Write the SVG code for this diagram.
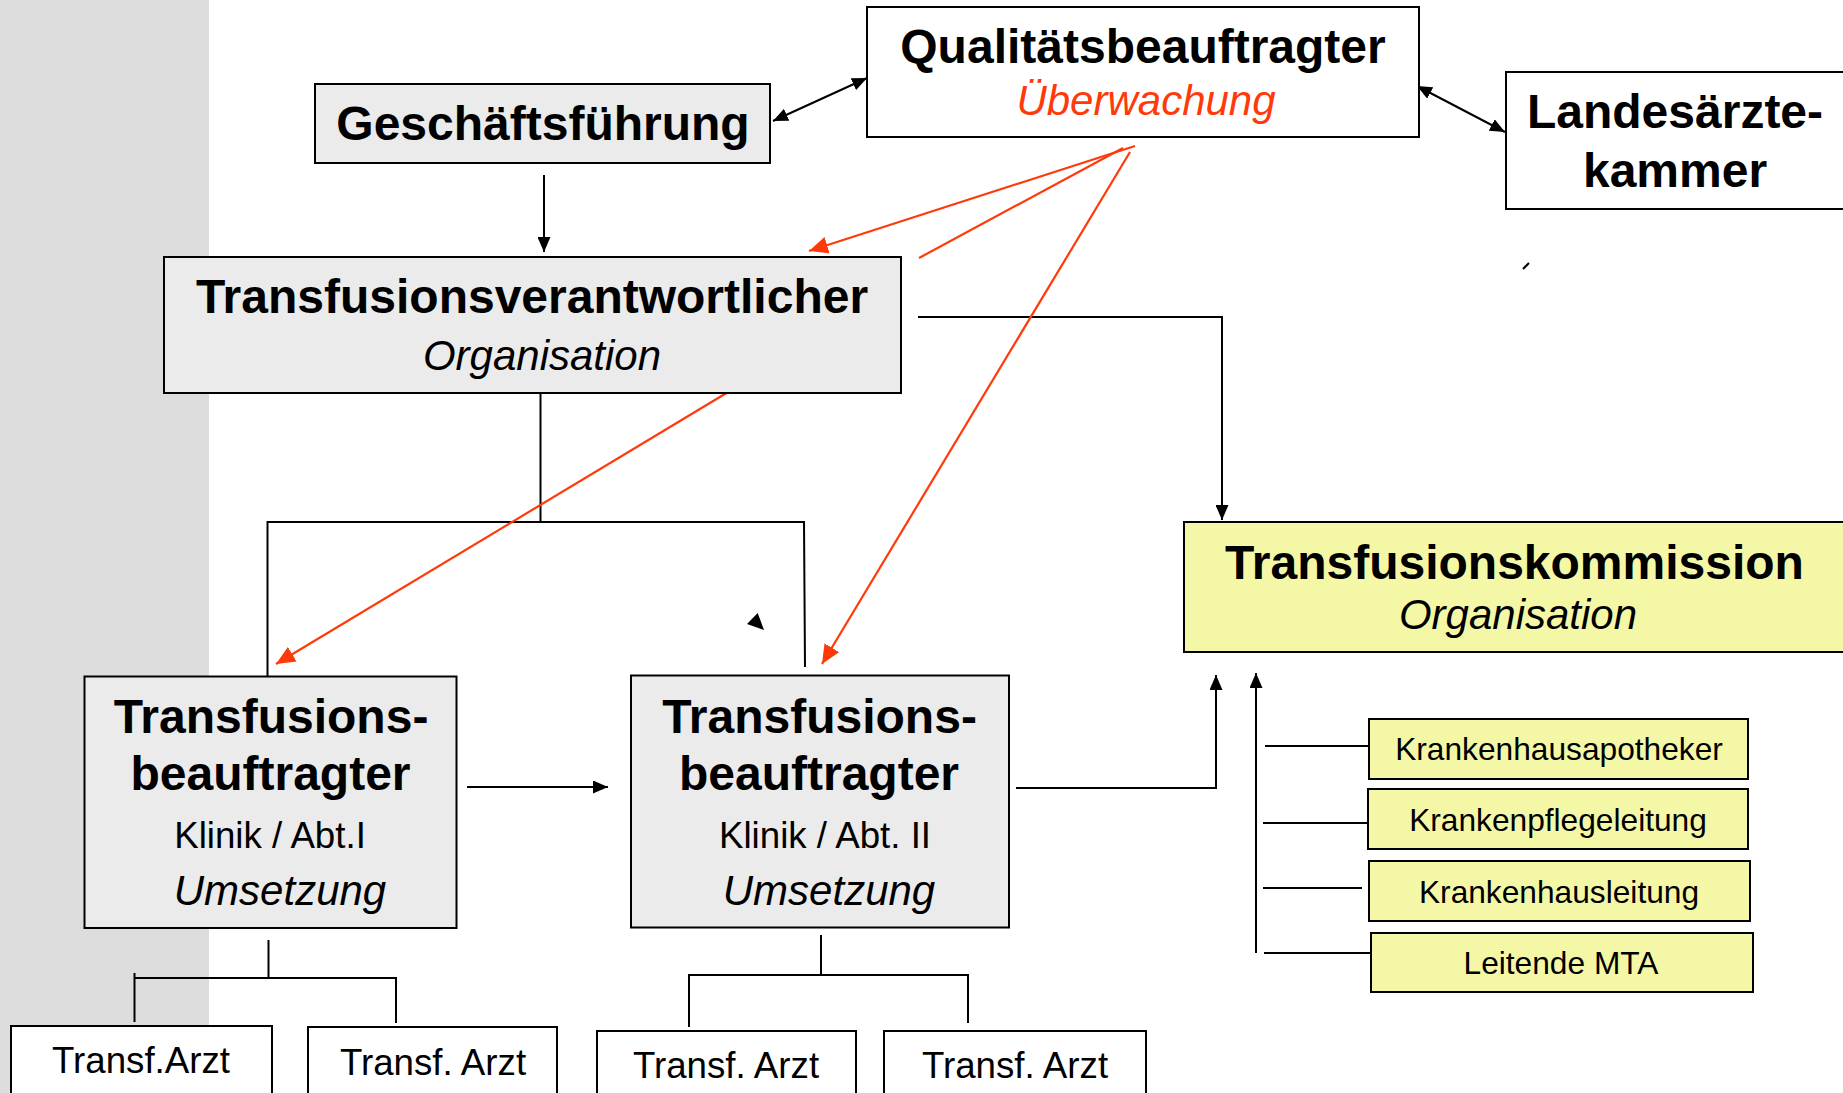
<svg xmlns="http://www.w3.org/2000/svg" width="1843" height="1093" viewBox="0 0 1843 1093">
<defs>
<style>
.box{stroke:#000;stroke-width:2}
.gray{fill:#ebebeb}
.white{fill:#fff}
.yel{fill:#f4f8a6}
.b{font-family:"Liberation Sans",Arial,sans-serif;font-weight:bold;font-size:48px;fill:#000;text-anchor:middle}
.i{font-family:"Liberation Sans",Arial,sans-serif;font-style:italic;font-size:42px;fill:#000;text-anchor:middle}
.r{font-family:"Liberation Sans",Arial,sans-serif;font-size:36.7px;fill:#000;text-anchor:middle}
.s{font-family:"Liberation Sans",Arial,sans-serif;font-size:31.7px;fill:#000;text-anchor:middle}
.ln{fill:none;stroke:#000;stroke-width:2}
.red{fill:none;stroke:#ff3a0a;stroke-width:2.2}
</style>
<marker id="ah" markerUnits="userSpaceOnUse" markerWidth="15" markerHeight="13" refX="15" refY="6.5" orient="auto-start-reverse" viewBox="0 0 15 13">
<path d="M0,0 L15,6.5 L0,13 z" fill="#000"/>
</marker>
<marker id="rh" markerUnits="userSpaceOnUse" markerWidth="19" markerHeight="17" refX="19" refY="8.5" orient="auto" viewBox="0 0 19 17">
<path d="M0,0 L19,8.5 L0,17 z" fill="#ff3a0a"/>
</marker>
</defs>
<rect x="0" y="0" width="1843" height="1093" fill="#fff"/>
<rect x="0" y="0" width="209" height="1093" fill="#dddddd"/>

<g id="connectors">
<line class="ln" x1="773" y1="121" x2="867" y2="78" marker-start="url(#ah)" marker-end="url(#ah)"/>
<line class="ln" x1="1417" y1="86" x2="1505" y2="132" marker-start="url(#ah)" marker-end="url(#ah)"/>
<line class="ln" x1="544" y1="175" x2="544" y2="252" marker-end="url(#ah)"/>
<polyline class="ln" points="918,317 1222,317 1222,520" marker-end="url(#ah)"/>
<polyline class="ln" points="540.5,392 540.5,522"/>
<polyline class="ln" points="267.5,678 267.5,522 804,522 805,667"/>
<line class="ln" x1="467" y1="787" x2="608" y2="787" marker-end="url(#ah)"/>
<polyline class="ln" points="1016,788 1216,788 1216,675" marker-end="url(#ah)"/>
<line class="ln" x1="1256" y1="953" x2="1256" y2="673" marker-end="url(#ah)"/>
<line class="ln" x1="1265" y1="746" x2="1369" y2="746"/>
<line class="ln" x1="1263" y1="823" x2="1368" y2="823"/>
<line class="ln" x1="1263" y1="888" x2="1362" y2="888"/>
<line class="ln" x1="1264" y1="953" x2="1371" y2="953"/>
<polyline class="ln" points="268.5,940 268.5,978"/>
<polyline class="ln" points="134.5,1022 134.5,973 134.5,978 396,978 396,1023"/>
<polyline class="ln" points="821,935 821,975"/>
<polyline class="ln" points="689,1027 689,975 968,975 968,1023"/>
<line class="red" x1="1135" y1="146" x2="809" y2="251" marker-end="url(#rh)"/>
<line class="red" x1="1123" y1="148" x2="919" y2="258" stroke-width="1.6"/>
<line class="red" x1="1130" y1="152" x2="822" y2="664" marker-end="url(#rh)"/>
<line class="red" x1="726.5" y1="393" x2="276" y2="664" marker-end="url(#rh)"/>
<polygon points="757.7,613 747,624 764,630" fill="#000"/>
<line x1="1523" y1="269" x2="1529" y2="263" stroke="#000" stroke-width="2"/>
<rect x="100.5" y="904.5" width="1.5" height="2.5" fill="#000"/>
</g>

<g id="geschaeftsfuehrung">
<rect class="box gray" x="315" y="84" width="455" height="79"/>
<text class="b" x="543" y="140">Geschäftsführung</text>
</g>

<g id="qualitaetsbeauftragter">
<rect class="box white" x="867" y="7" width="552" height="130"/>
<text class="b" x="1143" y="63">Qualitätsbeauftragter</text>
<text class="i" x="1146" y="115" style="fill:#ff3a0a">Überwachung</text>
</g>

<g id="landesaerztekammer">
<rect class="box white" x="1506" y="72" width="350" height="137"/>
<text class="b" x="1675" y="128">Landesärzte-</text>
<text class="b" x="1675" y="187">kammer</text>
</g>

<g id="transfusionsverantwortlicher">
<rect class="box gray" x="164" y="257" width="737" height="136"/>
<text class="b" x="532" y="313">Transfusionsverantwortlicher</text>
<text class="i" x="542" y="370">Organisation</text>
</g>

<g id="transfusionskommission">
<rect class="box yel" x="1184" y="522" width="680" height="130"/>
<text class="b" x="1514.5" y="579">Transfusionskommission</text>
<text class="i" x="1518" y="629">Organisation</text>
</g>

<g id="tb1">
<rect class="box gray" x="84.5" y="676.5" width="372" height="251.5"/>
<text class="b" x="271" y="733">Transfusions-</text>
<text class="b" x="270.5" y="790">beauftragter</text>
<text class="r" x="270" y="848">Klinik / Abt.I</text>
<text class="i" x="280" y="905">Umsetzung</text>
</g>

<g id="tb2">
<rect class="box gray" x="631" y="675.5" width="378" height="252"/>
<text class="b" x="819.5" y="733">Transfusions-</text>
<text class="b" x="819" y="790">beauftragter</text>
<text class="r" x="825" y="848">Klinik / Abt. II</text>
<text class="i" x="829" y="905">Umsetzung</text>
</g>

<g id="krankenhausapotheker">
<rect class="box yel" x="1369" y="719" width="379" height="60"/>
<text class="s" x="1559" y="760">Krankenhausapotheker</text>
</g>
<g id="krankenpflegeleitung">
<rect class="box yel" x="1368" y="789" width="380" height="60"/>
<text class="s" x="1558" y="830.5">Krankenpflegeleitung</text>
</g>
<g id="krankenhausleitung">
<rect class="box yel" x="1369" y="861" width="381" height="60"/>
<text class="s" x="1559" y="902.5">Krankenhausleitung</text>
</g>
<g id="leitende-mta">
<rect class="box yel" x="1371" y="933" width="382" height="59"/>
<text class="s" x="1561" y="973.5">Leitende MTA</text>
</g>

<g id="arzt1">
<rect class="box white" x="11" y="1026" width="261" height="80"/>
<text class="r" x="141" y="1073">Transf.Arzt</text>
</g>
<g id="arzt2">
<rect class="box white" x="308" y="1027" width="249" height="80"/>
<text class="r" x="433" y="1075">Transf. Arzt</text>
</g>
<g id="arzt3">
<rect class="box white" x="597" y="1031" width="259" height="80"/>
<text class="r" x="726" y="1078">Transf. Arzt</text>
</g>
<g id="arzt4">
<rect class="box white" x="884" y="1031" width="262" height="80"/>
<text class="r" x="1015" y="1078">Transf. Arzt</text>
</g>
</svg>
